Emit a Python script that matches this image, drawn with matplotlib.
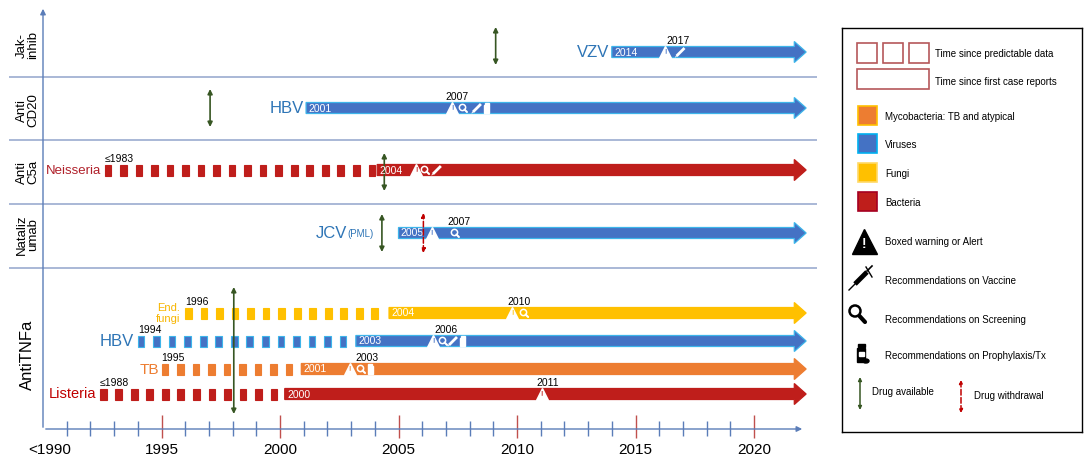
import matplotlib
matplotlib.use("Agg")
import matplotlib.pyplot as plt
import numpy as np
from matplotlib.patches import Rectangle, Ellipse

plt.rcParams['font.family'] = ['Liberation Sans', 'DejaVu Sans']

# ---- values ----
drugs = ["Jak-\ninhib", "Anti\nCD20", "Anti\nC5a", "Nataliz\numab", "AntiTNFa"]
drug_available = [2009.1, 1997.05, 2004.4, 2004.3, 1998.05]
drug_withdrawal = [None, None, None, 2006.05, None]

pathogens = ["VZV", "HBV", "Neisseria", "JCV", "End.\nfungi", "HBV", "TB", "Listeria"]
pathogen_group = ["virus", "virus", "bacteria", "virus", "fungi", "virus", "myco", "bacteria"]
predictable_start = [None, None, 1992.6, None, 1996.0, 1994.0, 1995.0, 1992.4]
predictable_label = [None, None, "≤1983", None, "1996", "1994", "1995", "≤1988"]
case_report_start = [2014.0, 2001.1, 2004.1, 2005.0, 2004.6, 2003.2, 2000.9, 2000.2]
case_report_label = ["2014", "2001", "2004", "2005", "2004", "2003", "2001", "2000"]
event_label = ["2017", "2007", None, "2007", "2010", "2006", "2003", "2011"]
event_label_x = [2016.8, 2007.47, None, 2007.55, 2010.1, 2007.0, 2003.67, 2011.3]
events = [
    [(2016.26, "warn"), (2016.9, "vaccine")],
    [(2007.26, "warn"), (2007.72, "screen"), (2008.31, "vaccine"), (2008.73, "pill")],
    [(2005.74, "warn"), (2006.12, "screen"), (2006.62, "vaccine")],
    [(2006.41, "warn"), (2007.38, "screen")],
    [(2009.79, "warn"), (2010.3, "screen")],
    [(2006.46, "warn"), (2006.88, "screen"), (2007.3, "vaccine"), (2007.72, "pill")],
    [(2002.95, "warn"), (2003.42, "screen"), (2003.8, "pill")],
    [(2011.05, "warn")],
]
year_ticks = [1990.3, 1995, 2000, 2005, 2010, 2015, 2020]
year_tick_labels = ["<1990", "1995", "2000", "2005", "2010", "2015", "2020"]

group_color = {"myco": "#ED7D31", "virus": "#4472C4", "fungi": "#FFC000", "bacteria": "#BF1E1B"}
group_edge = {"myco": "#ED7D31", "virus": "#3DB5EA", "fungi": "#FFC000", "bacteria": "#BF1E1B"}
label_color = {"VZV": "#2E75B6", "HBV": "#2E75B6", "JCV": "#2E75B6", "Neisseria": "#B0202A",
               "Listeria": "#C00000", "TB": "#ED7D31", "End.\nfungi": "#F7B500"}
label_size = {"VZV": 12, "HBV": 12, "JCV": 12, "Neisseria": 9.5,
              "Listeria": 10.5, "TB": 11, "End.\nfungi": 8}
legend_groups = [("myco", "Mycobacteria: TB and atypical"), ("virus", "Viruses"),
                 ("fungi", "Fungi"), ("bacteria", "Bacteria")]

# ---- layout (pixels) ----
PX = 23.7          # pixels per year
X0 = 43            # pixel column of 1990
lane_y = [52, 108, 170, 233, 313, 341, 369, 394]
label_end = [2013.9, 2001.0, 1992.45, 2002.85, 1995.8, 1993.85, 1994.9, 1992.25]
drug_y = [45, 110, 172, 235, 355]
drug_span = [(27, 65), (89, 127), (153, 191), (214, 252), (287, 414)]
sep_y = [77, 140, 204, 268]
BAR_H = 11
BAR_END = 2021.7
TIP = 2022.2
AXIS_C = "#5B7DB8"
GREEN = "#375623"
DARKRED = "#C00000"


def icon(a, x, y, kind, fg, bg, s=1.0, xu=1.0 / PX):
    if kind == "warn":
        a.plot(x, y - 0.5 * s, marker="^", ms=9 * s, color=fg, mec=fg, zorder=5)
        a.text(x, y + 0.8 * s, "!", color=bg, fontsize=5 * s, fontweight="bold",
               ha="center", va="center", zorder=6)
    elif kind == "screen":
        a.plot(x - 1 * s * xu, y - 1 * s, marker="o", ms=4.5 * s, mfc="none", mec=fg,
               mew=1.1 * s, zorder=5)
        a.plot([x + 1.5 * s * xu, x + 4 * s * xu], [y + 1.5 * s, y + 4 * s], color=fg,
               lw=1.5 * s, solid_capstyle="round", zorder=5)
    elif kind == "vaccine":
        a.plot([x - 3 * s * xu, x + 3 * s * xu], [y + 3 * s, y - 3 * s], color=fg,
               lw=2 * s, zorder=5)
        a.plot([x - 5 * s * xu, x - 3 * s * xu], [y + 5 * s, y + 3 * s], color=fg,
               lw=0.6 * s, zorder=5)
    elif kind == "pill":
        a.add_patch(Rectangle((x - 2.5 * s * xu, y - 3 * s), 5 * s * xu, 8 * s, color=fg, zorder=5))
        a.add_patch(Rectangle((x - 2.2 * s * xu, y - 5 * s), 4.4 * s * xu, 1.6 * s, color=fg, zorder=5))


fig = plt.figure(figsize=(10.84, 4.63), dpi=100)
ax = fig.add_axes([0, 0, 830 / 1084, 1])
ax.set_xlim(1990 - X0 / PX, 1990 + (830 - X0) / PX)
ax.set_ylim(463, 0)
ax.axis("off")

# time axis
ax.annotate("", xy=(1990, 6), xytext=(1990, 430),
            arrowprops=dict(arrowstyle="-|>", color=AXIS_C, lw=1, mutation_scale=8))
ax.annotate("", xy=(2022.15, 429), xytext=(1990, 429),
            arrowprops=dict(arrowstyle="-|>", color=AXIS_C, lw=1, mutation_scale=8))
for yr in range(1991, 2021):
    if yr % 5 == 0:
        ax.vlines(yr, 415, 438, color="#C0504D", lw=1)
    else:
        ax.vlines(yr, 421, 436, color=AXIS_C, lw=1)
for x, t in zip(year_ticks, year_tick_labels):
    ax.text(x, 450, t, fontsize=11, ha="center", va="center")

# row separators and drug labels
ax.hlines(sep_y, 1988.55, 2022.65, color="#A9B8D6", lw=1.4)
for i, d in enumerate(drugs):
    fs = 12 if i == 4 else 9.5
    ax.text(1989.35, drug_y[i], d, rotation=90, fontsize=fs, ha="center", va="center",
            linespacing=1.0)
    ax.annotate("", xy=(drug_available[i], drug_span[i][0]), xytext=(drug_available[i], drug_span[i][1]),
                arrowprops=dict(arrowstyle="<|-|>", color=GREEN, lw=1.2, mutation_scale=7,
                                shrinkA=0, shrinkB=0))
    if drug_withdrawal[i] is not None:
        ax.annotate("", xy=(drug_withdrawal[i], drug_span[i][0] - 1),
                    xytext=(drug_withdrawal[i], drug_span[i][1] + 1),
                    arrowprops=dict(arrowstyle="<|-|>", color=DARKRED, lw=1.1, ls="--",
                                    mutation_scale=6, shrinkA=0, shrinkB=0), zorder=7)

# pathogen timelines
for i, p in enumerate(pathogens):
    y = lane_y[i]
    g = pathogen_group[i]
    c, ec = group_color[g], group_edge[g]
    if predictable_start[i] is not None:
        xs = np.arange(predictable_start[i], case_report_start[i] - 0.35, 0.655)
        ax.barh([y] * len(xs), 0.28, left=xs, height=BAR_H, color=c, edgecolor=ec, lw=0.8)
        ax.text(predictable_start[i], y - 6, predictable_label[i], fontsize=7.5,
                ha="left", va="bottom")
    s0 = case_report_start[i]
    hy = BAR_H / 2
    ax.fill([s0, BAR_END, BAR_END, TIP, BAR_END, BAR_END, s0],
            [y - hy, y - hy, y - 10.5, y, y + 10.5, y + hy, y + hy],
            color=c, ec=ec, lw=0.9)
    ax.text(s0 + 0.1, y + 0.5, case_report_label[i], color="white", fontsize=7.5,
            ha="left", va="center")
    for ex, kind in events[i]:
        icon(ax, ex, y, kind, "white", c)
    if event_label[i] is not None:
        ax.text(event_label_x[i], y - 6, event_label[i], fontsize=7.5, ha="center", va="bottom")
    t = ax.text(label_end[i], y + 0.5, p, color=label_color[p], fontsize=label_size[p],
                ha="right", va="center", linespacing=1.1)
    if p == "JCV":
        ax.annotate("(PML)", xy=(1, 0.12), xycoords=t, fontsize=7, color=label_color[p],
                    ha="left", va="bottom")

# ---- legend box ----
lg = fig.add_axes([842 / 1084, (463 - 432) / 463, 240 / 1084, 404 / 463])
lg.set_xlim(0, 240)
lg.set_ylim(404, 0)
lg.set_xticks([])
lg.set_yticks([])
for sp in lg.spines.values():
    sp.set_linewidth(1)
    sp.set_color("black")

OUT = "#B5585A"
for x0 in (15, 41, 67):
    lg.add_patch(Rectangle((x0, 15), 19.5, 20, fill=False, ec=OUT, lw=1.2))
lg.add_patch(Rectangle((15, 41), 72, 20, fill=False, ec=OUT, lw=1.2))
lg.text(93, 26, "Time since predictable data", fontsize=7, va="center")
lg.text(93, 54, "Time since first case reports", fontsize=7, va="center")

sw_y = [78, 106, 135, 164]
sw_edge = {"myco": "#FFC000", "virus": "#00B0F0", "fungi": "#FFD966", "bacteria": "#A50021"}
for (g, name), y0 in zip(legend_groups, sw_y):
    lg.add_patch(Rectangle((16, y0), 19, 19, fc=group_color[g], ec=sw_edge[g], lw=1.2))
    lg.text(43, y0 + 11, name, fontsize=7, va="center")

icon(lg, 22, 214, "warn", "black", "white", s=2.0, xu=1.0)
lg.text(43, 214, "Boxed warning or Alert", fontsize=7, va="center")
lg.plot([13, 25], [256, 244], color="black", lw=3.5, solid_capstyle="butt")
lg.plot([7, 13], [262, 256], color="black", lw=1)
lg.plot([24, 30], [239, 249], color="black", lw=1)
lg.plot([25, 30], [243, 238], color="black", lw=1.2)
lg.text(43, 253, "Recommendations on Vaccine", fontsize=7, va="center")
lg.add_patch(Ellipse((13, 283), 11, 11, fill=False, ec="black", lw=1.8))
lg.plot([17.5, 23], [288, 294], color="black", lw=3, solid_capstyle="round")
lg.text(43, 292, "Recommendations on Screening", fontsize=7, va="center")
lg.add_patch(Rectangle((15, 320), 8, 14, color="black"))
lg.add_patch(Rectangle((15.5, 316), 7, 3, color="black"))
lg.add_patch(Rectangle((16.5, 324), 5, 4, color="white"))
lg.add_patch(Ellipse((24, 333), 6, 4, color="black"))
lg.text(43, 328, "Recommendations on Prophylaxis/Tx", fontsize=7, va="center")

lg.annotate("", xy=(18, 349), xytext=(18, 382),
            arrowprops=dict(arrowstyle="<|-|>", color=GREEN, lw=1.1, mutation_scale=5,
                            shrinkA=0, shrinkB=0))
lg.text(30, 364, "Drug available", fontsize=7, va="center")
lg.annotate("", xy=(119, 352), xytext=(119, 385),
            arrowprops=dict(arrowstyle="<|-|>", color=DARKRED, lw=1.1, ls="--",
                            mutation_scale=5, shrinkA=0, shrinkB=0))
lg.text(132, 368, "Drug withdrawal", fontsize=7, va="center")

fig.savefig("out.png", dpi=100)
